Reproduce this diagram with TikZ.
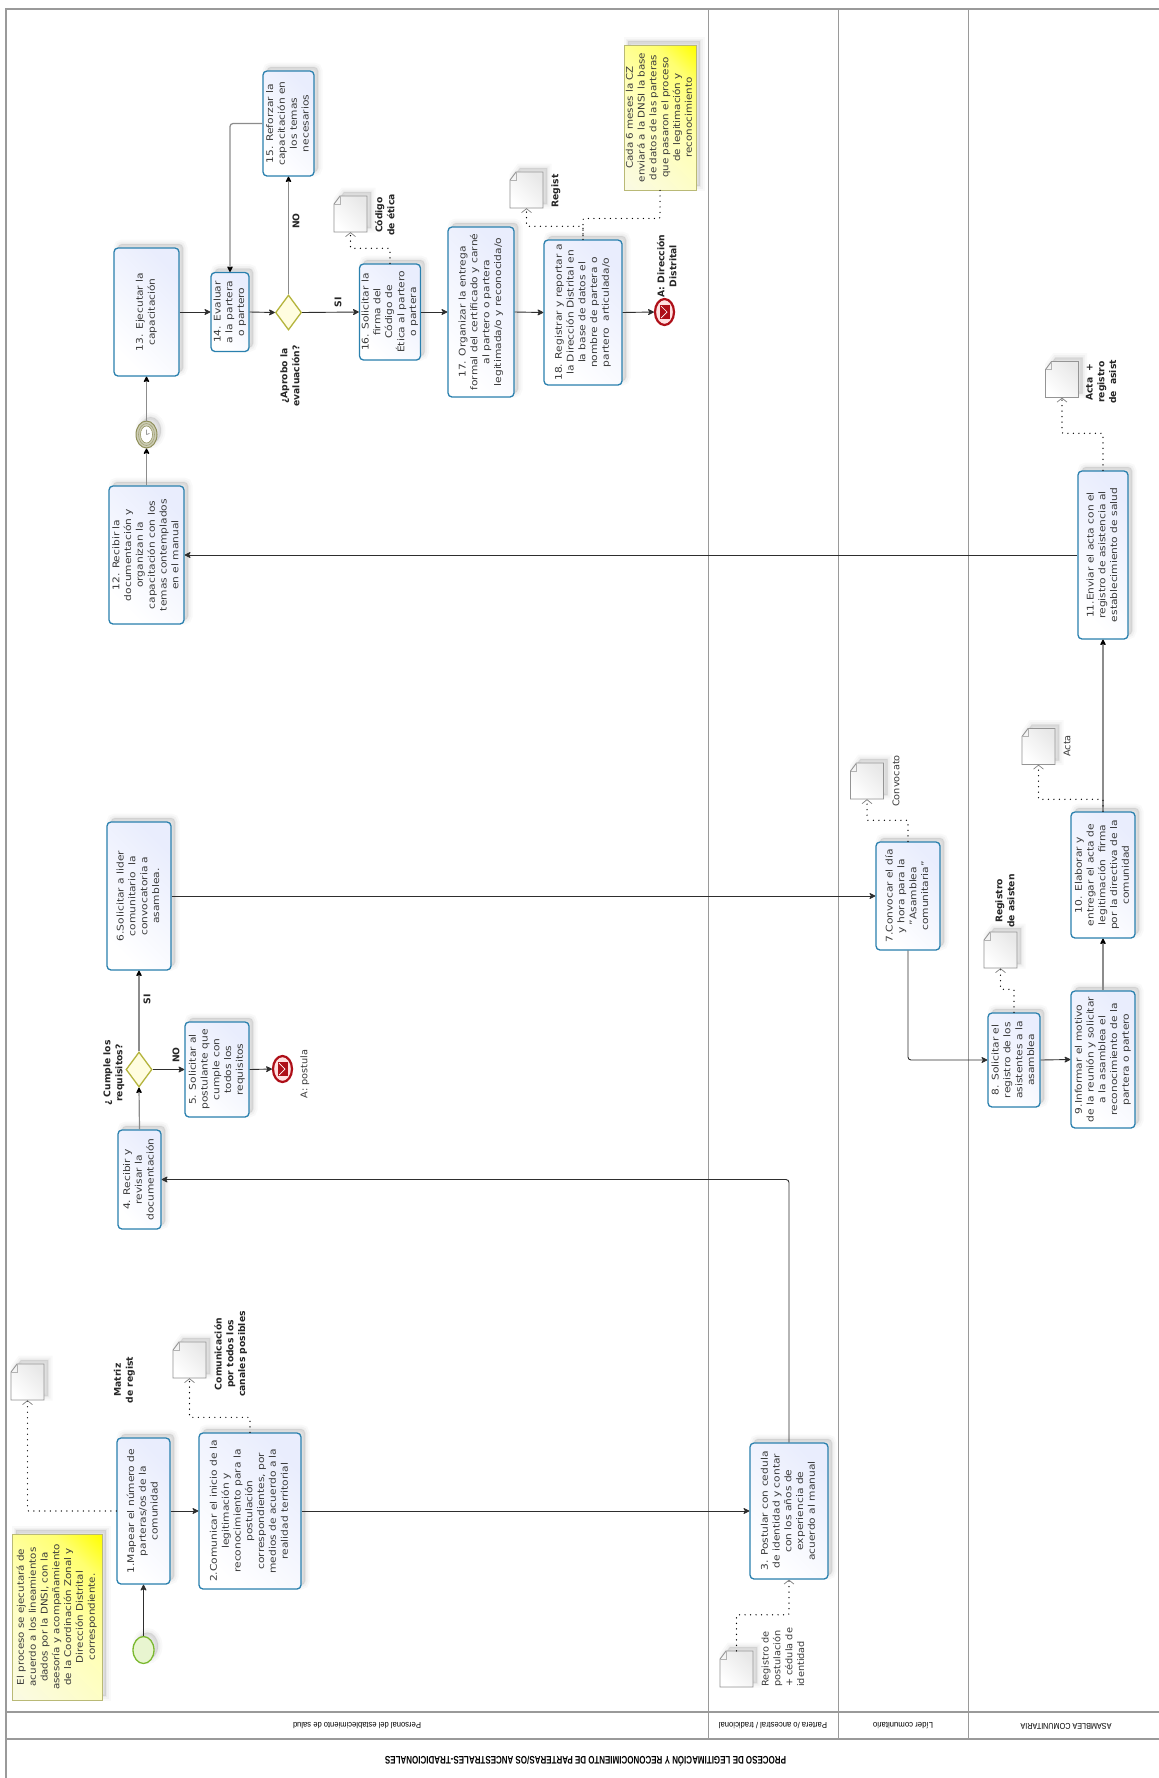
\documentclass[tikz,border=0pt]{standalone}
\usepackage{fontspec}
\usepackage{graphicx}
\setmainfont{DejaVu Sans}
\newfontfamily\lanefont{Liberation Sans}
\usetikzlibrary{arrows.meta,shapes.geometric,shapes.misc,shadows,calc}
\definecolor{tborder}{HTML}{2A80AE}
\definecolor{tfill}{HTML}{E9EDFD}
\definecolor{txtc}{HTML}{3A3A3A}
\definecolor{framec}{HTML}{9A9A9A}
\definecolor{noteb}{HTML}{B9B976}
\definecolor{gatb}{HTML}{B4B43C}
\definecolor{redc}{HTML}{AE0F18}
\definecolor{oliv}{HTML}{8E8E58}
\definecolor{startb}{HTML}{7AB82E}
\definecolor{startf}{HTML}{E8F5D0}
\definecolor{nA}{HTML}{FAFAE4}
\definecolor{nB}{HTML}{FFFFB8}
\definecolor{nC}{HTML}{FFFF70}
\pgfdeclareverticalshading{notegrad}{100bp}{color(0bp)=(nA); color(15bp)=(nA); color(50bp)=(nB); color(72bp)=(nC); color(85bp)=(yellow); color(100bp)=(yellow)}
\newcommand{\vt}[1]{\rotatebox{90}{\scalebox{1.16}[1]{\fontsize{9.2}{11.8}\selectfont\begin{tabular}{@{}c@{}}#1\end{tabular}}}}
\newcommand{\vn}[1]{\rotatebox{90}{\scalebox{1.12}[1]{\fontsize{9.2}{11.8}\selectfont\begin{tabular}{@{}c@{}}#1\end{tabular}}}}
\newcommand{\vr}[1]{\rotatebox{90}{\scalebox{1.06}[1]{\fontsize{9.2}{11.8}\selectfont\begin{tabular}{@{}c@{}}#1\end{tabular}}}}
\newcommand{\vl}[1]{\rotatebox{90}{\scalebox{1.06}[1]{\fontsize{9.2}{11.8}\selectfont\begin{tabular}{@{}l@{}}#1\end{tabular}}}}
\newcommand{\vb}[1]{\rotatebox{90}{\fontsize{9.2}{11.8}\selectfont\bfseries\begin{tabular}{@{}c@{}}#1\end{tabular}}}
\newcommand{\flatt}[3]{\resizebox{#1pt}{\height}{\lanefont\fontsize{#2}{#2}\selectfont #3}}
\tikzset{
  softshadow/.style={
    general shadow={shadow xshift=4pt,shadow yshift=4pt,fill=black,draw=black,opacity=.022,line width=9pt},
    general shadow={shadow xshift=4pt,shadow yshift=4pt,fill=black,draw=black,opacity=.03,line width=5pt},
    general shadow={shadow xshift=4pt,shadow yshift=4pt,fill=black,draw=black,opacity=.035,line width=1.5pt}},
  taskbox/.style={softshadow,rectangle,rounded corners=4pt,draw=tborder,line width=1.3pt,top color=tfill,bottom color=white,shading angle=-45,inner sep=0pt,text=txtc,align=center},
  notebox/.style={softshadow,rectangle,draw=noteb,line width=.9pt,shading=notegrad,shading angle=-45,inner sep=0pt,text=txtc},
  docbox/.style={inner sep=0pt,minimum width=33pt,minimum height=36pt},
  docshape/.style={softshadow,draw=black!42,line width=.9pt,top color=black!9,bottom color=white,shading angle=-45},
  gateway/.style={diamond,aspect=.74,draw=gatb,line width=1.3pt,fill=yellow!12,minimum width=26pt,minimum height=35pt,inner sep=0pt},
  startev/.style={softshadow,ellipse,draw=startb,line width=1.3pt,fill=startf,minimum width=21pt,minimum height=27pt,inner sep=0pt},
  endev/.style={ellipse,draw=redc,line width=2.2pt,fill=red!12,minimum width=19pt,minimum height=26pt,inner sep=0pt},
  flow/.style={draw=black!82,line width=.9pt,rounded corners=3pt,-{Stealth[length=7pt,width=7pt,inset=2pt,round]}},
  gflow/.style={draw=black!45,line width=1.2pt,rounded corners=3pt,-{Stealth[length=7pt,width=7pt,inset=2pt,round,black]}},
  assoc/.style={draw=black,line width=1.4pt,line cap=round,dash pattern=on 0pt off 5.5pt,rounded corners=1pt},
  assocarrow/.style={assoc,-{Straight Barb[length=4pt,width=10pt,black!50,line width=.7pt]}},
  plainlab/.style={inner sep=0pt,text=txtc},
  boldlab/.style={inner sep=0pt,text=black!85},
  lanelab/.style={inner sep=0pt,rotate=180,text=black},
}
\begin{document}
\begin{tikzpicture}[x=1pt,y=-1pt]
\useasboundingbox (0,0) rectangle (1159,1778);
\fill[white] (0,0) rectangle (1159,1778);
% frame
\draw[framec,line width=1.3pt] (6,1778) -- (6,9) -- (1159,9);
\draw[framec,line width=1.2pt] (6,1712) -- (1159,1712) (6,1739) -- (1159,1739);
\draw[framec,line width=1pt] (708,9) -- (708,1739) (838,9) -- (838,1739) (968,9) -- (968,1739);
% header texts
\node[lanelab] (title) at (585.5,1761) {\flatt{401}{11}{\bfseries PROCESO DE LEGITIMACIÓN Y RECONOCIMIENTO DE PARTERAS/OS ANCESTRALES-TRADICIONALES}};
\node[lanelab] (l1) at (357,1726) {\flatt{128}{8.5}{Personal del establecimiento de salud}};
\node[lanelab] (l2) at (773,1726) {\flatt{108}{8.5}{Partera /o ancestral / tradicional}};
\node[lanelab] (l3) at (903,1726) {\flatt{60}{8.5}{Líder comunitario}};
\node[lanelab] (l4) at (1066,1726) {\flatt{91}{8.5}{ASAMBLEA COMUNITARIA}};
% notes
\node[notebox,minimum width=90pt,minimum height=166pt] (n1) at (57,1617) {\vn{El proceso se ejecutará de\\acuerdo a los lineamientos\\dados por la DNSI, con la\\asesoría y acompañamiento\\de la Coordinación Zonal y\\Dirección Distrital\\correspondiente.}};
\node[notebox,minimum width=72pt,minimum height=145pt] (n2) at (660,117.5) {\vn{Cada 6 meses la CZ\\enviará a la DNSI la base\\de datos de las parteras\\que pasaron el proceso\\de legitimación y\\reconocimiento}};
% tasks
\node[taskbox,minimum width=53pt,minimum height=146pt] (b1) at (143.5,1511) {\vt{1.Mapear el número de\\parteras/os de la\\comunidad}};
\node[taskbox,minimum width=102pt,minimum height=156pt] (b2) at (250,1511) {\vt{2.Comunicar el inicio de la\\legitimación y\\reconocimiento para la\\postulación\\correspondientes, por\\medios de acuerdo a la\\realidad territorial}};
\node[taskbox,minimum width=78pt,minimum height=136pt] (b3) at (789,1511) {\vt{3. Postular con cedula\\de identidad y contar\\con los años de\\experiencia de\\acuerdo al manual}};
\node[taskbox,minimum width=43pt,minimum height=99pt] (b4) at (139.5,1179.5) {\vt{4. Recibir y\\revisar la\\documentación}};
\node[taskbox,minimum width=64pt,minimum height=95pt] (b5) at (217,1069.5) {\vt{5. Solicitar al\\postulante que\\cumple con\\todos los\\requisitos}};
\node[taskbox,minimum width=64pt,minimum height=148pt] (b6) at (139,896) {\vt{6.Solicitar a lider\\comunitario\ \ la\\convocatoria a\\asamblea.}};
\node[taskbox,minimum width=64pt,minimum height=108pt] (b7) at (908,896) {\vt{7.Convocar el día\\y hora para la\\"Asamblea\\comunitaria"}};
\node[taskbox,minimum width=52pt,minimum height=94pt] (b8) at (1014,1060) {\vt{8. Solicitar el\\registro de los\\asistentes a la\\asamblea}};
\node[taskbox,minimum width=64pt,minimum height=137pt] (b9) at (1103,1059.5) {\vt{9.Informar el motivo\\de la reunión y solicitar\\a la asamblea el\\reconocimiento de la\\partera o partero}};
\node[taskbox,minimum width=64pt,minimum height=126pt] (b10) at (1103,875) {\vt{10. Elaborar y\\entregar el acta de\\legitimación\ \ firma\\por la directiva de la\\comunidad}};
\node[taskbox,minimum width=50pt,minimum height=168pt] (b11) at (1103,555) {\vt{11.Enviar el acta con el\\registro de asistencia al\\establecimiento de salud}};
\node[taskbox,minimum width=75pt,minimum height=138pt] (b12) at (146.5,555) {\vt{12. Recibir la\\documentación y\\organizan la\\capacitación con los\\temas contemplados\\en el manual}};
\node[taskbox,minimum width=65pt,minimum height=128pt] (b13) at (146.5,312) {\vt{13. Ejecutar la\\capacitación}};
\node[taskbox,minimum width=38pt,minimum height=79pt] (b14) at (230,312) {\vt{14. Evaluar\\a la partera\\o partero}};
\node[taskbox,minimum width=51pt,minimum height=105pt] (b15) at (288.5,123.5) {\vt{15. Reforzar la\\capacitación en\\los temas\\necesarios}};
\node[taskbox,minimum width=61pt,minimum height=96pt] (b16) at (390,312) {\vt{16. Solicitar la\\firma del\\Código de\\Ética al partero\\o partera}};
\node[taskbox,minimum width=66pt,minimum height=170pt] (b17) at (481,312) {\vt{17. Organizar la entrega\\formal del certificado y carné\\al partero o partera\\legitimada/o y reconocida/o}};
\node[taskbox,minimum width=78pt,minimum height=145pt] (b18) at (583,312.5) {\vt{18. Registrar y reportar a\\la Dirección Distrital en\\la base de datos el\\nombre de partera o\\partero\ \ articulada/o}};
% gateways
\node[gateway] (g1) at (139,1069.5) {};
\node[gateway] (g2) at (288.5,312.5) {};
% events
\node[startev] (s) at (143.5,1650) {};
\node[softshadow,ellipse,draw=oliv,line width=1pt,fill=oliv!45,minimum width=21pt,minimum height=27pt,inner sep=0pt] (tm) at (146.5,434.5) {};
\draw[oliv!80,line width=.6pt] (tm.center) ellipse (8pt and 11pt);
\fill[white] (tm.center) ellipse (6pt and 8.5pt);
\draw[oliv,line width=.5pt] (tm.center) ellipse (6pt and 8.5pt);
\draw[black!60,line width=.5pt] ($(tm.center)+(0,-5)$) -- (tm.center) -- ($(tm.center)+(3,-1)$);
\foreach \ev/\cx/\cy in {e1/282.5/1069,e2/664.5/312}{
  \node[endev] (\ev) at (\cx,\cy) {};
  \fill[redc] ($(\ev.center)+(-4.5,-7)$) rectangle ($(\ev.center)+(5,7)$);
  \draw[white,line width=.7pt] ($(\ev.center)+(-3.5,-6)$) -- ($(\ev.center)+(2.5,0)$) -- ($(\ev.center)+(-3.5,6)$);
}
% documents
\foreach \d/\cx/\cy in {d1/27.5/1382,d2/189.5/1360,d3/736.5/1669,d7/867/781,d8/1000.5/950,d10/1038.5/746.5,d11/1062/379.5,d16/350.5/214,d18/526.5/190}{
  \node[docbox] (\d) at (\cx,\cy) {};
  \path[docshape] ($(\d.center)+(-10.5,-18)$) -- ($(\d.center)+(16.5,-18)$) -- ($(\d.center)+(16.5,18)$) -- ($(\d.center)+(-16.5,18)$) -- ($(\d.center)+(-16.5,-10)$) -- cycle;
  \draw[black!30,line width=.4pt] ($(\d.center)+(-10.5,-18)$) -- ++(0,8) -- ++(-6,0);
}
% labels
\node[boldlab] (lb1) at (124.5,1380) {\vb{Matriz\\de regist}};
\begin{scope}
\clip (210,1300) rectangle (246,1400);
\node[boldlab] (lb2) at (231,1354) {\vb{Comunicación\\por todos los\\canales posibles}};
\end{scope}
\node[plainlab,anchor=south] (lb3) at (784,1687) {\vl{Registro de\\postulación\\+ cédula de\\identidad}};
\node[boldlab] (lb4) at (114,1073) {\vb{¿ Cumple los\\requisitos?}};
\node[boldlab] (lb5) at (148,999) {\vb{SI}};
\node[boldlab] (lb6) at (177,1055) {\vb{NO}};
\node[plainlab] (lb7) at (305,1074) {\vr{A: postula}};
\node[plainlab] (lb8) at (897,781) {\vr{Convocato}};
\node[boldlab] (lb9) at (1006,901) {\vb{Registro\\de asisten}};
\node[plainlab] (lb10) at (1068,746) {\vr{Acta}};
\node[boldlab] (lb11) at (1102,382) {\vb{Acta\ \ +\\registro\\de\ \ asist}};
\node[boldlab] (lb12) at (291,376) {\vb{¿Aprobo la\\evaluación?}};
\node[boldlab] (lb13) at (297,221) {\vb{NO}};
\node[boldlab] (lb14) at (339,302) {\vb{SI}};
\node[boldlab] (lb15) at (386,215) {\vb{Código\\de ética}};
\node[boldlab] (lb16) at (556,191) {\vb{Regist}};
\node[boldlab] (lb17) at (668,266) {\vb{A: Dirección\\Distrital}};
% sequence flows
\draw[flow] (s.north) -- (b1.south);
\draw[flow] (b1.east) -- (b2.west);
\draw[flow] (b2.east) -- (b3.west);
\draw[flow] (b3.north) |- (b4.east);
\draw[gflow] (b4.north) -- (g1.south);
\draw[gflow] (g1.north) -- (b6.south);
\draw[flow] (g1.east) -- (b5.west);
\draw[flow] (b5.east) -- (e1.west);
\draw[flow] (b6.east) -- (b7.west);
\draw[flow] (b7.south) |- (b8.west);
\draw[flow] (b8.east) -- (b9.west);
\draw[gflow] (b9.north) -- (b10.south);
\draw[gflow] (b10.north) -- (b11.south);
\draw[flow] (b11.west) -- (b12.east);
\draw[gflow] (b12.north) -- (tm.south);
\draw[gflow] (tm.north) -- (b13.south);
\draw[flow] (b13.east) -- (b14.west);
\draw[flow] (b14.east) -- (g2.west);
\draw[gflow] (g2.north) -- (b15.south);
\draw[gflow] (b15.west) -| (b14.north);
\draw[flow] (g2.east) -- (b16.west);
\draw[flow] (b16.east) -- (b17.west);
\draw[flow] (b17.east) -- (b18.west);
\draw[flow] (b18.east) -- (e2.west);
% associations
\draw[assocarrow] (b1.west) -| (d1.south);
\draw[assocarrow] (b2.north) -- ++(0,-15) -| (d2.south);
\draw[assocarrow] (d3.north) -- ++(0,-36) -| (b3.south);
\draw[assocarrow] (b7.north) -- ++(0,-21) -| (d7.south);
\draw[assocarrow] (b8.north) -- ++(0,-23) -| (d8.south);
\draw[assocarrow] (b10.north) -- ++(0,-12) -| (d10.south);
\draw[assocarrow] (b11.north) -- ++(0,-37) -| (d11.south);
\draw[assocarrow] (b16.north) -- ++(0,-15) -| (d16.south);
\draw[assocarrow] (b18.north) -- ++(0,-13) -| (d18.south);
\draw[assoc] (n2.south) -- ++(0,28) -| (b18.north);
\end{tikzpicture}
\end{document}
